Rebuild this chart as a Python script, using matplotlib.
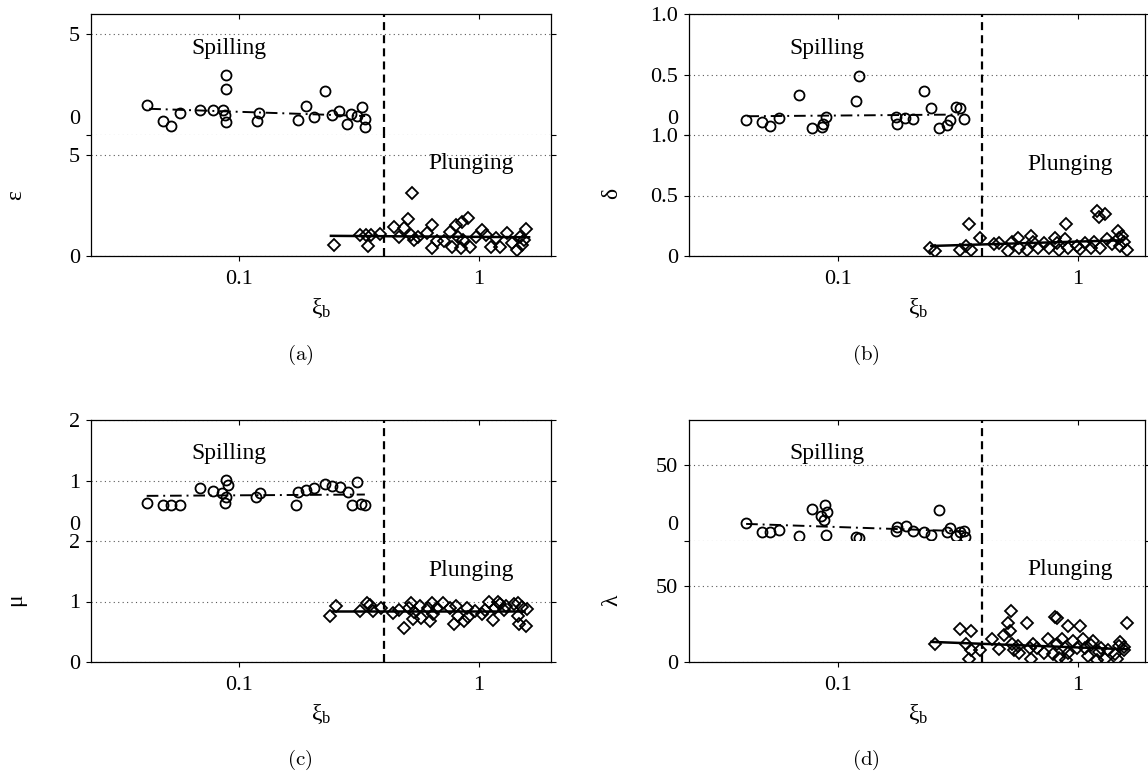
import matplotlib
matplotlib.use('Agg')
import matplotlib.pyplot as plt
from matplotlib.ticker import FixedLocator, NullLocator
from matplotlib.transforms import ScaledTranslation

plt.rcParams['font.family'] = ['Liberation Serif', 'DejaVu Serif']
plt.rcParams['mathtext.fontset'] = 'custom'
plt.rcParams['mathtext.rm'] = 'Liberation Serif'
plt.rcParams['mathtext.it'] = 'Liberation Serif:italic'
plt.rcParams['font.size'] = 16

W, H = 1148, 776

# ---- (a) epsilon ----
eps_spill_xi = [0.0413, 0.048, 0.0516, 0.0564, 0.0683, 0.0776, 0.085, 0.088, 0.088, 0.087,
                0.088, 0.121, 0.118, 0.175, 0.19, 0.204, 0.228, 0.243, 0.26, 0.282,
                0.292, 0.309, 0.325, 0.333, 0.334]
eps_spill = [1.49, 0.69, 0.46, 1.11, 1.24, 1.24, 1.24, 2.97, 2.28, 0.98,
             0.64, 1.07, 0.68, 0.74, 1.44, 0.91, 2.2, 0.99, 1.2, 0.53,
             1.03, 0.94, 1.37, 0.78, 0.41]
eps_plunge_xi = [0.249, 0.32, 0.337, 0.345, 0.355, 0.387, 0.44, 0.465, 0.487, 0.504,
                 0.524, 0.52, 0.537, 0.558, 0.61, 0.635, 0.64, 0.668, 0.716, 0.757,
                 0.77, 0.80, 0.82, 0.84, 0.85, 0.86, 0.90, 0.92, 0.97, 1.03,
                 1.07, 1.12, 1.18, 1.23, 1.31, 1.38, 1.44, 1.48, 1.51, 1.57, 1.55]
eps_plunge = [0.55, 1.04, 1.04, 0.5, 1.04, 1.07, 1.42, 0.96, 1.37, 1.83,
              3.14, 1.04, 0.79, 0.96, 1.16, 0.38, 1.52, 0.76, 0.76, 1.2,
              0.46, 1.54, 0.96, 0.38, 1.7, 0.79, 1.9, 0.43, 0.96, 1.29,
              1.04, 0.43, 0.88, 0.46, 1.13, 0.63, 0.3, 0.96, 0.55, 1.32, 0.79]
eps_spill_fit_xi, eps_spill_fit = [0.042, 0.335], [1.3, 0.94]
eps_plunge_fit_xi, eps_plunge_fit = [0.241, 1.62], [1.0, 0.93]

# ---- (b) delta ----
del_spill_xi = [0.0415, 0.0481, 0.052, 0.057, 0.0687, 0.078, 0.0863, 0.087, 0.0893, 0.119,
                0.122, 0.174, 0.177, 0.19, 0.205, 0.228, 0.245, 0.264, 0.285, 0.293,
                0.31, 0.324, 0.336]
del_spill = [0.127, 0.108, 0.072, 0.144, 0.329, 0.058, 0.066, 0.094, 0.149, 0.279,
             0.486, 0.149, 0.088, 0.144, 0.13, 0.365, 0.224, 0.058, 0.08, 0.127,
             0.235, 0.221, 0.13]
del_plunge_xi = [0.243, 0.253, 0.321, 0.34, 0.352, 0.36, 0.392, 0.445, 0.47, 0.513,
                 0.53, 0.565, 0.57, 0.615, 0.64, 0.65, 0.68, 0.723, 0.76, 0.80,
                 0.82, 0.835, 0.88, 0.895, 0.91, 0.99, 1.02, 1.07, 1.13, 1.17,
                 1.2, 1.22, 1.23, 1.29, 1.32, 1.38, 1.46, 1.48, 1.5, 1.52,
                 1.55, 1.6]
del_plunge = [0.064, 0.042, 0.047, 0.083, 0.263, 0.047, 0.152, 0.097, 0.111, 0.042,
              0.119, 0.152, 0.069, 0.047, 0.166, 0.119, 0.069, 0.111, 0.069, 0.152,
              0.111, 0.047, 0.139, 0.263, 0.069, 0.083, 0.055, 0.111, 0.069, 0.119,
              0.368, 0.319, 0.069, 0.346, 0.139, 0.097, 0.208, 0.147, 0.083, 0.166,
              0.119, 0.047]
del_spill_fit_xi, del_spill_fit = [0.042, 0.32], [0.155, 0.169]
del_plunge_fit_xi, del_plunge_fit = [0.245, 1.52], [0.083, 0.13]

# ---- (c) mu ----
mu_spill_xi = [0.0411, 0.0481, 0.0519, 0.0566, 0.0682, 0.0776, 0.0845, 0.0881, 0.0893, 0.087,
               0.088, 0.1175, 0.1216, 0.1726, 0.175, 0.19, 0.205, 0.227, 0.243, 0.262,
               0.284, 0.294, 0.309, 0.322, 0.333]
mu_spill = [0.62, 0.59, 0.59, 0.59, 0.884, 0.83, 0.80, 1.005, 0.92, 0.63,
            0.72, 0.72, 0.80, 0.59, 0.81, 0.85, 0.884, 0.94, 0.91, 0.895,
            0.81, 0.60, 0.98, 0.61, 0.59]
mu_plunge_xi = [0.239, 0.252, 0.318, 0.342, 0.35, 0.36, 0.39, 0.436, 0.465, 0.488,
                0.51, 0.52, 0.531, 0.535, 0.57, 0.575, 0.614, 0.625, 0.64, 0.645,
                0.67, 0.711, 0.76, 0.785, 0.8, 0.82, 0.865, 0.89, 0.9, 0.96,
                1.03, 1.06, 1.106, 1.15, 1.17, 1.2, 1.22, 1.27, 1.3, 1.4,
                1.45, 1.46, 1.475, 1.51, 1.58, 1.59]
mu_plunge = [0.765, 0.93, 0.837, 0.97, 0.95, 0.85, 0.886, 0.81, 0.86, 0.57,
             0.90, 0.97, 0.71, 0.82, 0.93, 0.726, 0.90, 0.67, 0.97, 0.79,
             0.90, 0.97, 0.90, 0.626, 0.93, 0.765, 0.68, 0.90, 0.74, 0.85,
             0.80, 0.86, 0.986, 0.69, 0.90, 1.0, 0.96, 0.86, 0.93, 0.96,
             0.97, 0.765, 0.626, 0.914, 0.60, 0.875]
mu_spill_fit_xi, mu_spill_fit = [0.041, 0.334], [0.746, 0.768]
mu_plunge_fit_xi, mu_plunge_fit = [0.243, 1.54], [0.848, 0.848]

# ---- (d) lambda ----
lam_spill_xi = [0.0415, 0.0481, 0.052, 0.057, 0.0687, 0.078, 0.0853, 0.0887, 0.0897, 0.0877,
                0.0893, 0.119, 0.122, 0.174, 0.177, 0.192, 0.205, 0.228, 0.245, 0.264,
                0.285, 0.293, 0.31, 0.324, 0.334, 0.337]
lam_spill = [11.7, 5.8, 5.8, 7.3, 3.5, 21.3, 16.8, 23.5, 19.5, 14.0,
             4.0, 2.4, 2.0, 6.4, 9.1, 10.2, 6.9, 5.8, 4.2, 20.6,
             5.8, 8.6, 3.5, 5.8, 6.4, 2.4]
lam_plunge_xi = [0.253, 0.321, 0.34, 0.352, 0.36, 0.36, 0.392, 0.44, 0.47, 0.49,
                 0.513, 0.52, 0.525, 0.53, 0.54, 0.565, 0.57, 0.615, 0.63, 0.64,
                 0.65, 0.675, 0.723, 0.75, 0.79, 0.80, 0.82, 0.82, 0.835, 0.86,
                 0.88, 0.89, 0.91, 0.91, 0.95, 0.99, 1.02, 1.05, 1.07, 1.10,
                 1.13, 1.15, 1.2, 1.22, 1.25, 1.29, 1.33, 1.42, 1.45, 1.48,
                 1.5, 1.55, 1.56, 1.6]
lam_plunge = [11.7, 21.7, 11.7, 2.2, 7.8, 20.2, 7.8, 15.1, 8.4, 17.9,
              26.1, 20.6, 33.9, 11.7, 7.8, 10.6, 6.2, 25.7, 9.5, 2.2,
              12.2, 9.5, 6.2, 15.5, 5.5, 29.9, 29.0, 11.7, 2.9, 15.5,
              9.5, 1.1, 23.9, 6.2, 14.0, 9.5, 23.9, 15.1, 9.5, 4.0,
              11.3, 14.0, 1.1, 6.9, 9.5, 1.8, 7.8, 5.5, 1.8, 10.6,
              12.9, 10.0, 7.8, 25.5]
lam_spill_fit_xi, lam_spill_fit = [0.0415, 0.336], [11.3, 6.4]
lam_plunge_fit_xi, lam_plunge_fit = [0.245, 1.6], [13.3, 8.4]

xi_break = 0.4

fig = plt.figure(figsize=(W / 100, H / 100), dpi=100)


def setup_axis(ax, xhi, ymax, ticks, ticklabels, upper):
    ax.set_xscale('log')
    ax.set_xlim(0.024, xhi)
    ax.set_ylim(0, ymax)
    ax.xaxis.set_major_locator(FixedLocator([0.1, 1]))
    ax.xaxis.set_minor_locator(NullLocator())
    ax.set_xticklabels(['0.1', '1'])
    ax.set_yticks(ticks)
    ax.set_yticklabels(ticklabels)
    ax.yaxis.set_minor_locator(NullLocator())
    ax.yaxis.grid(True, linestyle=(0, (1, 3)), color='0.35', lw=0.8)
    ax.tick_params(axis='y', direction='out', left=True, right=True,
                   length=3.6, width=0.8, pad=4.3, labelsize=16)
    for s in ax.spines.values():
        s.set_linewidth(0.9)
    if upper:
        ax.spines['bottom'].set_visible(False)
        ax.tick_params(axis='x', direction='in', top=True, bottom=False,
                       labelbottom=False, length=3.6, width=0.8)
    else:
        ax.spines['top'].set_visible(False)
        ax.tick_params(axis='x', direction='out', top=False, bottom=True,
                       length=3.6, width=0.8, pad=6.5, labelsize=16)


def panel(left, right, top, xhi, ymax, ticks, ticklabels,
          spill_xi, spill, plunge_xi, plunge,
          sfit_xi, sfit, pfit_xi, pfit,
          sym, sym_xy, spill_txt_y, plunge_txt_y, cap, cap_xy, xlab_xy):
    h = 121
    ax_up = fig.add_axes([left / W, 1 - (top + h) / H, (right - left) / W, h / H])
    ax_lo = fig.add_axes([left / W, 1 - (top + 2 * h) / H, (right - left) / W, h / H])
    up_labels = [''] + ticklabels[1:]
    setup_axis(ax_up, xhi, ymax, ticks, up_labels, True)
    setup_axis(ax_lo, xhi, ymax, ticks, ticklabels, False)

    # shifted "0" label of the upper part
    tr = ax_up.get_yaxis_transform() + ScaledTranslation(-11 / 100, 6 / 100, fig.dpi_scale_trans)
    ax_up.text(0, 0, ticklabels[0], transform=tr, ha='right', va='bottom', fontsize=16)

    ax_up.plot(spill_xi, spill, 'o', mfc='none', mec='black', ms=7.2, mew=1.3)
    ax_up.plot(sfit_xi, sfit, color='black', lw=1.4, ls=(0, (6, 2.5, 1, 2.5)))
    ax_lo.plot(plunge_xi, plunge, 'D', mfc='none', mec='black', ms=5.8, mew=1.3)
    ax_lo.plot(pfit_xi, pfit, color='black', lw=1.8)

    for ax in (ax_up, ax_lo):
        ax.axvline(xi_break, color='black', lw=1.6, ls=(0, (3.6, 2.3)))

    ax_up.text(0.09, spill_txt_y, 'Spilling', ha='center', va='center', fontsize=17)
    ax_lo.text(0.93, plunge_txt_y, 'Plunging', ha='center', va='center', fontsize=17)

    fig.text(sym_xy[0] / W, 1 - sym_xy[1] / H, sym, rotation=90,
             ha='center', va='center', fontsize=17)
    fig.text(xlab_xy[0] / W, 1 - xlab_xy[1] / H, 'ξ$_\\mathrm{b}$',
             ha='center', va='center', fontsize=17)
    fig.text(cap_xy[0] / W, 1 - cap_xy[1] / H, '$\\mathrm{(' + cap + ')}$',
             ha='center', va='center', fontsize=15, math_fontfamily='cm')


panel(91, 551, 14, 2.0, 6, [0, 5], ['0', '5'],
      eps_spill_xi, eps_spill, eps_plunge_xi, eps_plunge,
      eps_spill_fit_xi, eps_spill_fit, eps_plunge_fit_xi, eps_plunge_fit,
      'ε', (16, 195), 4.3, 4.6, 'a', (300, 355), (321, 308))

panel(689, 1145, 14, 1.9, 1.0, [0, 0.5, 1.0], ['0', '0.5', '1.0'],
      del_spill_xi, del_spill, del_plunge_xi, del_plunge,
      del_spill_fit_xi, del_spill_fit, del_plunge_fit_xi, del_plunge_fit,
      'δ', (612, 193), 0.716, 0.76, 'b', (866, 355), (918, 308))

panel(91, 551, 420, 2.0, 2, [0, 1, 2], ['0', '1', '2'],
      mu_spill_xi, mu_spill, mu_plunge_xi, mu_plunge,
      mu_spill_fit_xi, mu_spill_fit, mu_plunge_fit_xi, mu_plunge_fit,
      'μ', (16, 600), 1.45, 1.52, 'c', (300, 760), (321, 714))

panel(689, 1145, 420, 1.9, 80, [0, 50], ['0', '50'],
      lam_spill_xi, lam_spill, lam_plunge_xi, lam_plunge,
      lam_spill_fit_xi, lam_spill_fit, lam_plunge_fit_xi, lam_plunge_fit,
      'λ', (612, 600), 57.8, 61.2, 'd', (866, 760), (918, 714))

fig.savefig('out.png', dpi=100)
